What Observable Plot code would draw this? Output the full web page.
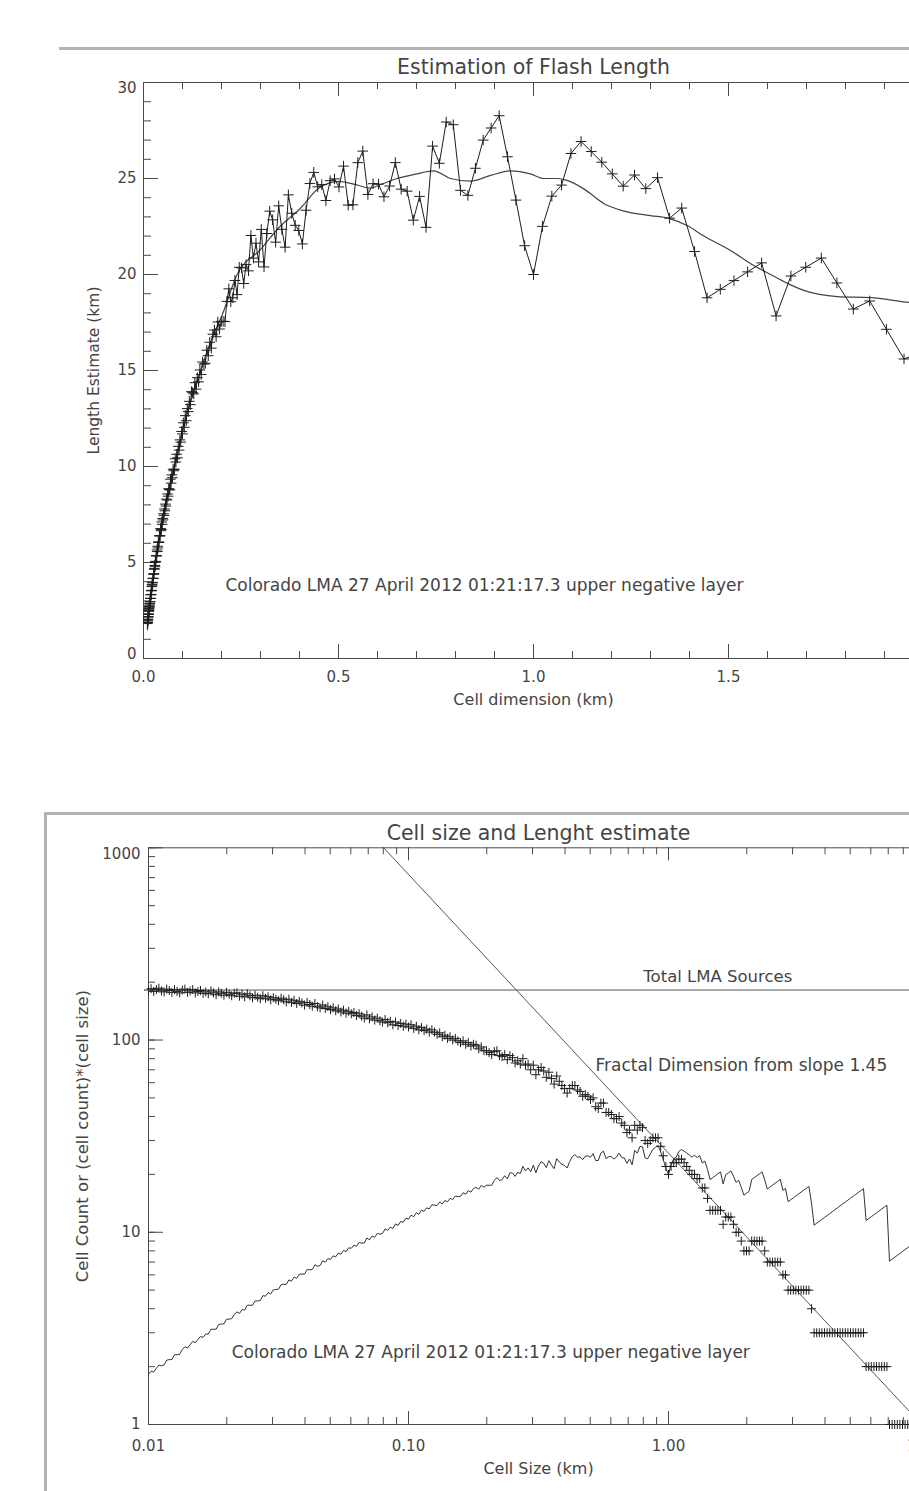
<!DOCTYPE html>
<html>
<head>
<meta charset="utf-8">
<script src="https://cdn.jsdelivr.net/npm/d3@7"></script>
<script src="https://cdn.jsdelivr.net/npm/@observablehq/plot@0.6"></script>
<style>
  html, body { margin: 0; padding: 0; background: #fff; overflow: hidden; }
  #page { position: relative; width: 909px; height: 1491px; overflow: hidden; background: #fff; }
  #page svg { position: absolute; left: 0; }
  .rule { position: absolute; background: #b3b3b3; z-index: 2; }
</style>
</head>
<body>
<div id="page">
  <div class="rule" style="left:59px; top:47px; width:850px; height:3px"></div>
  <div class="rule" style="left:44px; top:812px; width:865px; height:3px"></div>
  <div class="rule" style="left:44px; top:812px; width:3px; height:679px"></div>
</div>
<script>
// Box-counting cell sizes (km)
const cellSize = [
  0.01000,0.01023,0.01047,0.01072,0.01096,0.01122,0.01148,0.01175,0.01202,0.01230,
  0.01259,0.01288,0.01318,0.01349,0.01380,0.01413,0.01445,0.01479,0.01514,0.01549,
  0.01585,0.01622,0.01660,0.01698,0.01738,0.01778,0.01820,0.01862,0.01905,0.01950,
  0.01995,0.02042,0.02089,0.02138,0.02188,0.02239,0.02291,0.02344,0.02399,0.02455,
  0.02512,0.02570,0.02630,0.02692,0.02754,0.02818,0.02884,0.02951,0.03020,0.03090,
  0.03162,0.03236,0.03311,0.03388,0.03467,0.03548,0.03631,0.03715,0.03802,0.03890,
  0.03981,0.04074,0.04169,0.04266,0.04365,0.04467,0.04571,0.04677,0.04786,0.04898,
  0.05012,0.05129,0.05248,0.05370,0.05495,0.05623,0.05754,0.05888,0.06026,0.06166,
  0.06310,0.06457,0.06607,0.06761,0.06918,0.07079,0.07244,0.07413,0.07586,0.07762,
  0.07943,0.08128,0.08318,0.08511,0.08710,0.08913,0.09120,0.09333,0.09550,0.09772,
  0.1000,0.1023,0.1047,0.1072,0.1096,0.1122,0.1148,0.1175,0.1202,0.1230,
  0.1259,0.1288,0.1318,0.1349,0.1380,0.1413,0.1445,0.1479,0.1514,0.1549,
  0.1585,0.1622,0.1660,0.1698,0.1738,0.1778,0.1820,0.1862,0.1905,0.1950,
  0.1995,0.2042,0.2089,0.2138,0.2188,0.2239,0.2291,0.2344,0.2399,0.2455,
  0.2512,0.2570,0.2630,0.2692,0.2754,0.2818,0.2884,0.2951,0.3020,0.3090,
  0.3162,0.3236,0.3311,0.3388,0.3467,0.3548,0.3631,0.3715,0.3802,0.3890,
  0.3981,0.4074,0.4169,0.4266,0.4365,0.4467,0.4571,0.4677,0.4786,0.4898,
  0.5012,0.5129,0.5248,0.5370,0.5495,0.5623,0.5754,0.5888,0.6026,0.6166,
  0.6310,0.6457,0.6607,0.6761,0.6918,0.7079,0.7244,0.7413,0.7586,0.7762,
  0.7943,0.8128,0.8318,0.8511,0.8710,0.8913,0.9120,0.9333,0.9550,0.9772,
  1.000,1.023,1.047,1.072,1.096,1.122,1.148,1.175,1.202,1.230,
  1.259,1.288,1.318,1.349,1.380,1.413,1.445,1.479,1.514,1.549,
  1.585,1.622,1.660,1.698,1.738,1.778,1.820,1.862,1.905,1.950,
  1.995,2.042,2.089,2.138,2.188,2.239,2.291,2.344,2.399,2.455,
  2.512,2.570,2.630,2.692,2.754,2.818,2.884,2.951,3.020,3.090,
  3.162,3.236,3.311,3.388,3.467,3.548,3.631,3.715,3.802,3.890,
  3.981,4.074,4.169,4.266,4.365,4.467,4.571,4.677,4.786,4.898,
  5.012,5.129,5.248,5.370,5.495,5.623,5.754,5.888,6.026,6.166,
  6.310,6.457,6.607,6.761,6.918,7.079,7.244,7.413,7.586,7.762,
  7.943,8.128,8.318,8.511,8.710,8.913,9.120,9.333,9.550,9.772
];

// Number of occupied cells at each cell size
const cellCount = [
  182,185,179,183,186,180,178,184,181,177,
  183,179,176,182,184,177,180,183,176,179,
  181,175,178,174,180,176,172,178,175,171,
  177,173,170,175,176,169,173,168,174,170,
  166,171,167,164,170,165,168,162,166,163,
  160,165,162,158,163,157,161,155,159,156,
  152,157,153,150,155,149,147,152,146,149,
  144,147,142,145,140,143,138,141,137,139,
  134,137,133,130,135,129,132,127,130,126,
  124,128,123,125,120,124,119,122,118,121,
  117,120,115,118,113,116,112,114,110,113,
  110,107,109,104,106,102,104,100,102,99,
  97,99,95,97,93,95,94,90,92,88,
  88,86,84,87,88,83,82,84,79,83,
  81,76,78,75,80,74,75,70,74,66,
  70,72,69,64,68,63,59,65,61,58,
  56,53,56,58,58,55,54,51,52,51,
  49,50,45,44,47,47,42,42,41,39,
  39,40,37,36,33,34,31,36,34,36,
  35,30,29,30,31,31,31,28,25,22,
  20,22,23,23,24,24,23,22,21,20,
  20,19,19,17,17,15,13,13,13,13,
  13,11,12,12,12,11,10,10,9,8,
  8,8,9,9,9,9,9,8,7,7,
  7,7,7,7,6,6,5,5,5,5,
  5,5,5,5,5,4,3,3,3,3,
  3,3,3,3,3,3,3,3,3,3,
  3,3,3,3,3,3,2,2,2,2,
  2,2,2,2,2,1,1,1,1,1,
  1,1,1,1,1,1,1,1,1,1
];

// Smoothed length estimate (km) against cell dimension (km)
const smoothSize = [0.01,0.02,0.03,0.04,0.05,0.06,0.08,0.10,0.12,0.14,0.16,0.18,0.20,0.24,0.30,0.35,0.40,0.45,0.50,0.55,0.58,0.61,0.65,0.70,0.744,0.787,0.838,0.89,0.941,0.992,1.026,1.061,1.086,1.129,1.18,1.232,1.30,1.351,1.394,1.437,1.505,1.565,1.608,1.65,1.693,1.779,1.864,1.964,2.0];
const smoothLength = [1.5,3.3,4.8,6.1,7.2,8.2,10.0,11.8,13.3,14.6,15.8,16.9,17.8,20.0,21.3,22.5,23.4,24.5,24.85,24.65,24.5,24.7,25.0,25.24,25.4,25.0,24.86,25.16,25.4,25.24,25.0,25.0,24.9,24.46,23.7,23.3,23.07,22.9,22.55,22.0,21.25,20.47,20.0,19.55,19.17,18.85,18.8,18.55,18.5];

const totalSources = 182;
const fitSlope = 1.45;          // fractal dimension
const fitAnchor = {size: 1.0, count: 25.8};

const topXTicks = [0, 0.5, 1, 1.5, 2];
const topXLabels = [0, 0.5, 1, 1.5];
const topYLabels = [0, 5, 10, 15, 20, 25, 30];
const logXLabels = [0.01, 0.1, 1, 10];
const logYLabels = [1, 10, 100, 1000];

const stationNote = "Colorado LMA 27 April 2012 01:21:17.3 upper negative layer";

// ---------------------------------------------------------------
const flash = cellSize.map((s, i) => ({size: s, count: cellCount[i], length: s * cellCount[i]}));
const smooth = smoothSize.map((s, i) => ({size: s, length: smoothLength[i]}));
const fitLine = [0.01, 10].map(s => ({size: s, count: fitAnchor.count * Math.pow(s / fitAnchor.size, -fitSlope)}));

const ink = "#1e1e1e";
const axisInk = "#4a4a4a";
const textInk = "#444";
const font = "'DejaVu Sans', sans-serif";

const svgStyle = {fontFamily: font, fontSize: "15px", color: textInk, background: "transparent", maxWidth: "none", overflow: "visible"};

function xTicks(values, len, innerH) {
  return [
    Plot.tickX(values, {x: d => d, insetTop: innerH - len, stroke: axisInk, strokeWidth: 1}),
    Plot.tickX(values, {x: d => d, insetBottom: innerH - len, stroke: axisInk, strokeWidth: 1})
  ];
}
function yTicks(values, len, innerW) {
  return Plot.tickY(values, {y: d => d, insetRight: innerW - len, stroke: axisInk, strokeWidth: 1});
}

// ---------- Estimation of Flash Length ----------
const tW = 960, tH = 720, tL = 143, tR = 37, tT = 82, tB = 62;
const tInnerW = tW - tL - tR, tInnerH = tH - tT - tB;

const topChart = Plot.plot({
  width: tW, height: tH,
  marginLeft: tL, marginRight: tR, marginTop: tT, marginBottom: tB,
  x: {type: "linear", domain: [0, 2], axis: null},
  y: {type: "linear", domain: [0, 30], axis: null},
  style: svgStyle,
  marks: [
    Plot.ruleY([0, 30], {stroke: axisInk}),
    Plot.ruleX([0], {stroke: axisInk}),
    ...xTicks(d3.range(0, 21).map(i => i / 10), 7, tInnerH),
    ...xTicks(topXTicks, 14, tInnerH),
    yTicks(d3.range(0, 31), 8, tInnerW),
    yTicks(topYLabels, 15, tInnerW),

    Plot.line(smooth, {x: "size", y: "length", stroke: "#444", strokeWidth: 1.2, curve: "monotone-x", clip: true}),
    Plot.line(flash, {x: "size", y: "length", stroke: ink, strokeWidth: 1, clip: true}),
    Plot.dot(flash, {x: "size", y: "length", symbol: "plus", r: 3.5, fill: "none", stroke: ink, strokeWidth: 1, clip: true}),

    Plot.text(topXLabels, {x: d => d, frameAnchor: "bottom", dy: 12.5, lineAnchor: "top", text: d => d.toFixed(1), fontSize: 15, fill: textInk}),
    Plot.text(topYLabels.filter(d => d > 0 && d < 30), {y: d => d, frameAnchor: "left", dx: -7, textAnchor: "end", lineAnchor: "middle", text: d => String(d), fontSize: 15, fill: textInk}),
    Plot.text([30], {y: d => d, frameAnchor: "left", dx: -7, dy: 6, textAnchor: "end", lineAnchor: "middle", text: d => String(d), fontSize: 15, fill: textInk}),
    Plot.text([0], {y: d => d, frameAnchor: "left", dx: -7, dy: -4, textAnchor: "end", lineAnchor: "middle", text: d => String(d), fontSize: 15, fill: textInk}),

    Plot.text(["Estimation of Flash Length"], {frameAnchor: "top", dy: -8.5, lineAnchor: "bottom", text: d => d, fontSize: 20.5, fill: textInk}),
    Plot.text(["Cell dimension (km)"], {frameAnchor: "bottom", dy: 46, lineAnchor: "bottom", text: d => d, fontSize: 16, fill: textInk}),
    Plot.text(["Length Estimate (km)"], {frameAnchor: "left", dx: -49, rotate: -90, textAnchor: "middle", lineAnchor: "middle", text: d => d, fontSize: 15.5, fill: textInk}),
    Plot.text([stationNote], {x: 0.21, y: 3.54, textAnchor: "start", lineAnchor: "bottom", text: d => d, fontSize: 17, fill: textInk})
  ]
});
topChart.style.top = "0px";

// ---------- Cell size and length estimate ----------
const bW = 960, bH = 731, bL = 148, bR = 32, bT = 87.3, bB = 67;
const bInnerW = bW - bL - bR, bInnerH = bH - bT - bB;
const logXTicks = d3.scaleLog().domain([0.01, 10]).ticks();
const logYTicks = d3.scaleLog().domain([1, 1000]).ticks();

const bottomChart = Plot.plot({
  width: bW, height: bH,
  marginLeft: bL, marginRight: bR, marginTop: bT, marginBottom: bB,
  x: {type: "log", domain: [0.01, 10], axis: null},
  y: {type: "log", domain: [1, 1000], axis: null},
  style: svgStyle,
  marks: [
    Plot.ruleY([1, 1000], {stroke: axisInk}),
    Plot.ruleX([0.01], {stroke: axisInk}),
    ...xTicks(logXTicks, 7, bInnerH),
    ...xTicks(logXLabels, 13, bInnerH),
    yTicks(logYTicks, 7, bInnerW),
    yTicks(logYLabels, 15, bInnerW),

    Plot.ruleY([totalSources], {stroke: "#555", strokeWidth: 1}),
    Plot.line(fitLine, {x: "size", y: "count", stroke: "#555", strokeWidth: 1, clip: true}),
    Plot.line(flash, {x: "size", y: "length", stroke: "#333", strokeWidth: 1, clip: true}),
    Plot.dot(flash, {x: "size", y: "count", symbol: "plus", r: 3, fill: "none", stroke: ink, strokeWidth: 1}),

    Plot.text(logXLabels, {x: d => d, frameAnchor: "bottom", dy: 15.5, lineAnchor: "top", text: d => d.toFixed(2), fontSize: 15, fill: textInk}),
    Plot.text(logYLabels.filter(d => d < 1000), {y: d => d, frameAnchor: "left", dx: -8, textAnchor: "end", lineAnchor: "middle", text: d => String(d), fontSize: 15, fill: textInk}),
    Plot.text([1000], {y: d => d, frameAnchor: "left", dx: -8, dy: 6.7, textAnchor: "end", lineAnchor: "middle", text: d => String(d), fontSize: 15, fill: textInk}),

    Plot.text(["Cell size and Lenght estimate"], {frameAnchor: "top", dy: -8, lineAnchor: "bottom", text: d => d, fontSize: 20.5, fill: textInk}),
    Plot.text(["Cell Size (km)"], {frameAnchor: "bottom", dy: 49, lineAnchor: "bottom", text: d => d, fontSize: 16, fill: textInk}),
    Plot.text(["Cell Count or (cell count)*(cell size)"], {frameAnchor: "left", dx: -66, rotate: -90, textAnchor: "middle", lineAnchor: "middle", text: d => d, fontSize: 16.5, fill: textInk}),
    Plot.text(["Total LMA Sources"], {x: 0.80, y: 199.5, textAnchor: "start", lineAnchor: "bottom", text: d => d, fontSize: 16.5, fill: textInk}),
    Plot.text([fitSlope], {x: 0.524, y: 69.3, textAnchor: "start", lineAnchor: "bottom", text: d => `Fractal Dimension from slope ${d.toFixed(2)}`, fontSize: 17, fill: textInk}),
    Plot.text([stationNote], {x: 0.0209, y: 2.23, textAnchor: "start", lineAnchor: "bottom", text: d => d, fontSize: 17, fill: textInk})
  ]
});
bottomChart.style.top = "760px";

const page = document.getElementById("page");
page.insertBefore(bottomChart, page.firstChild);
page.insertBefore(topChart, page.firstChild);
</script>
</body>
</html>
